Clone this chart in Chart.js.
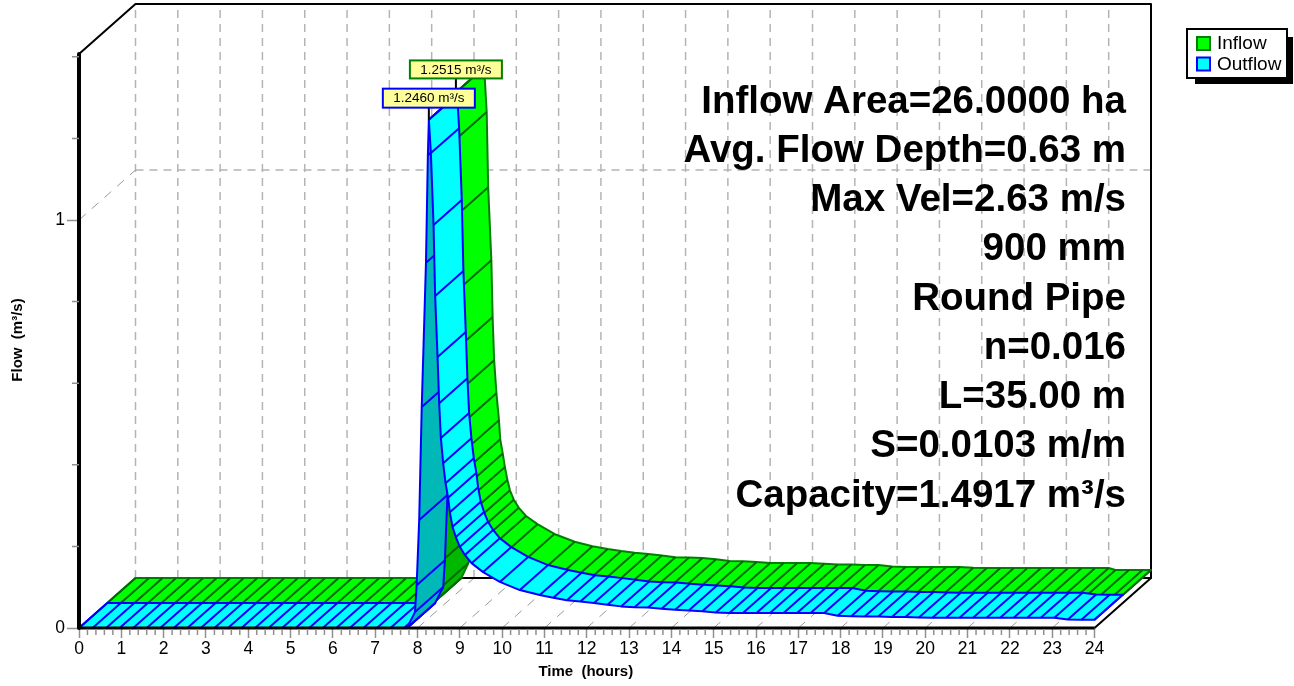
<!DOCTYPE html>
<html><head><meta charset="utf-8">
<style>html,body{margin:0;padding:0;background:#fff}canvas{display:block}</style>
<script src="https://cdn.jsdelivr.net/npm/chart.js@4"></script>
</head><body><canvas id="c" width="1294" height="686"></canvas>
<script>
// ---- values ----
const hourTicks = [0,1,2,3,4,5,6,7,8,9,10,11,12,13,14,15,16,17,18,19,20,21,22,23,24];
const flowMinorTicks = [0.2,0.4,0.6,0.8,1.2,1.4];
const flowMajorTicks = [0,1];
const seriesNames = ['Inflow','Outflow'];
const notes = ['Inflow Area=26.0000 ha','Avg. Flow Depth=0.63 m','Max Vel=2.63 m/s','900 mm','Round Pipe','n=0.016','L=35.00 m','S=0.0103 m/m','Capacity=1.4917 m³/s'];
const peakLabels = ['1.2515 m³/s','1.2460 m³/s'];

const outflowTimes = [0,.32,.64,.96,1.28,1.6,1.92,2.24,2.56,2.88,3.2,3.52,3.84,4.16,4.48,4.8,5.12,5.44,5.76,6.08,6.4,6.72,7.04,7.36,7.68,7.75,
  7.94,7.98,8.04,8.10,8.20,8.245,8.268,
  8.316,8.379,8.417,8.474,8.512,8.552,8.606,8.663,8.724,8.764,8.828,8.906,9.0,9.119,9.277,9.551,9.946,10.418,10.89,
  11.21,11.53,11.85,12.17,12.49,12.81,13.13,13.45,13.77,14.09,14.41,14.73,15.05,15.37,15.69,16.01,16.33,16.65,16.97,17.29,17.61,17.93,18.25,18.57,18.89,19.21,19.53,19.85,20.17,20.49,20.81,21.13,21.45,21.77,22.09,22.41,22.73,23.05,23.37,23.69,24];
const outflowFlows = [0,0,0,0,0,0,0,0,0,0,0,0,0,0,0,0,0,0,0,0,0,0,0,0,0,0,
  .039,.105,.265,.542,.895,1.159,1.246,
  1.164,.988,.814,.664,.551,.466,.404,.355,.319,.284,.248,.223,.199,.179,.159,.137,.113,.093,.081,
  .074,.068,.065,.061,.057,.053,.051,.050,.047,.045,.043,.041,.038,.037,.037,.037,.037,.037,.037,.037,.037,.030,.029,.028,.028,.027,.027,.026,.025,.025,.025,.025,.025,.025,.025,.025,.025,.025,.021,.020,.020];
const inflowTimes = [0,.32,.64,.96,1.28,1.6,1.92,2.24,2.56,2.88,3.2,3.52,3.84,4.16,4.48,4.8,5.12,5.44,5.76,6.08,6.4,6.72,7.04,7.36,7.68,7.70,
  7.87,7.93,7.99,8.05,8.15,8.21,8.24,
  8.30,8.335,8.41,8.44,8.476,8.53,8.59,8.62,8.68,8.73,8.79,8.85,8.94,9.06,9.23,9.50,9.90,10.38,10.80,
  11.16,11.48,11.80,12.12,12.44,12.76,13.08,13.40,13.72,14.04,14.36,14.68,15.0,15.32,15.64,15.96,16.28,16.60,16.92,17.24,17.56,17.88,18.20,18.52,18.84,19.16,19.48,19.80,20.12,20.44,20.76,21.08,21.40,21.72,22.04,22.36,22.68,23.0,23.16,23.48,23.80,24];
const inflowFlows = [0,0,0,0,0,0,0,0,0,0,0,0,0,0,0,0,0,0,0,0,0,0,0,0,0,0,
  .037,.105,.265,.545,.900,1.165,1.2515,
  1.142,.958,.779,.640,.534,.453,.387,.340,.305,.272,.240,.215,.192,.172,.152,.132,.108,.089,.078,
  .071,.066,.062,.059,.055,.051,.050,.049,.046,.042,.041,.039,.037,.037,.037,.037,.035,.033,.033,.032,.032,.028,.027,.027,.027,.027,.027,.025,.0245,.0245,.0245,.0245,.0245,.0245,.0245,.0245,.0245,.0245,.0196,.0196,.0196,.0196];

// depth of the pseudo-3D box, in axis units
const depthX = 1.335, depthY = 0.1225, wallTop = 1.407;
const riseStartIndex = 25, peakIndex = 32;

// ---- building line data from the values ----
const sets = [];
function add(points, color, width, extra){ sets.push(Object.assign({data:points,showLine:true,pointRadius:0,borderColor:color,borderWidth:width,clip:false,borderJoinStyle:'round',spanGaps:false},extra||{})); }
const at = (t,q,z) => ({x:t+z*depthX, y:q+z*depthY});
const gap = {x:0,y:null};
function ribbon(times,flows,z0,z1,edge,hatch,light,dark){
  const part=(from,to,fill)=>{
    const pts=[];
    for(let i=from;i<=to;i++) pts.push(at(times[i],flows[i],z0));
    for(let i=to;i>=from;i--) pts.push(at(times[i],flows[i],z1));
    pts.push(pts[0]);
    add(pts,edge,2,{polyFill:fill});
    const h=[];
    for(let i=from;i<=to;i++){ h.push(at(times[i],flows[i],z0),at(times[i],flows[i],z1),gap); }
    add(h,hatch,2);
  };
  part(0,riseStartIndex,light);
  part(riseStartIndex,peakIndex,dark);
  part(peakIndex,times.length-1,light);
}
const last = hourTicks[hourTicks.length-1];
// back wall + floor grid
const wallV=[],floorD=[];
hourTicks.forEach(h=>{wallV.push(at(h,0,1),at(h,wallTop,1),gap);floorD.push(at(h,0,0),at(h,0,1),gap);});
add(wallV,'#b4b4b4',1.5,{borderDash:[8,6]});
add(floorD,'#9a9a9a',1,{borderDash:[9,8]});
add([at(0,1,1),at(last,1,1)],'#b4b4b4',1.5,{borderDash:[8,6]});
add([at(0,1,0),at(0,1,1)],'#9a9a9a',1,{borderDash:[9,8]});
// back frame
add([at(0,wallTop,0),at(0,wallTop,1),at(last,wallTop,1),at(last,0,1)],'#000',2);
add([at(0,0,1),at(last,0,1),at(last,0,0)],'#000',2);
// ribbons
ribbon(inflowTimes,inflowFlows,.5,1,'#008000','#006a00','#00ff00','#00b800');
ribbon(outflowTimes,outflowFlows,0,.5,'#0000ff','#0000ff','#00ffff','#00b8b8');
// front frame
add([at(0,wallTop,0),at(0,0,0)],'#000',4);
add([at(0,0,0),at(last,0,0)],'#000',3);
sets.forEach((s,i)=>{s.order=sets.length-i;});

const polyPlugin={id:'poly',
  beforeDatasetDraw(chart,args){
    const ds=chart.data.datasets[args.index];
    if(!ds.polyFill) return;
    const c=chart.ctx,p=args.meta.data;
    c.save();c.beginPath();
    p.forEach((e,i)=>i?c.lineTo(e.x,e.y):c.moveTo(e.x,e.y));
    c.closePath();c.fillStyle=ds.polyFill;c.fill();c.restore();
  },
  afterDraw(chart){
    const c=chart.ctx,X=chart.scales.x,Y=chart.scales.y,x0=X.getPixelForValue(0),y0=Y.getPixelForValue(0);
    c.save();
    // minor ticks
    c.strokeStyle='#909090';c.lineWidth=1.5;c.beginPath();
    flowMinorTicks.forEach(v=>{const y=Y.getPixelForValue(v);c.moveTo(x0-7,y);c.lineTo(x0,y);});
    for(let i=0;i<last;i++)for(let k=1;k<5;k++){const x=X.getPixelForValue(i+k/5);c.moveTo(x,y0+1);c.lineTo(x,y0+7);}
    c.stroke();
    // axis titles
    c.fillStyle='#000';c.font='bold 15px "Liberation Sans"';c.textAlign='center';c.textBaseline='middle';
    c.fillText('Time  (hours)',X.getPixelForValue(last/2)-1,672);
    c.save();c.translate(18,Y.getPixelForValue(wallTop/2)-1);c.rotate(-Math.PI/2);c.fillText('Flow  (m³/s)',0,0);c.restore();
    // peak labels
    const peak=(t,q,z,text,edge,h,gapPx)=>{
      const p=at(t,q,z),px=X.getPixelForValue(p.x),py=Y.getPixelForValue(p.y);
      const bot=py-gapPx,w=92;
      c.strokeStyle='#000';c.lineWidth=2;c.beginPath();c.moveTo(px,py);c.lineTo(px,bot);c.stroke();
      c.fillStyle='#ffff99';c.fillRect(px-w/2,bot-h,w,h);
      c.strokeStyle=edge;c.lineWidth=2;c.strokeRect(px-w/2,bot-h,w,h);
      c.fillStyle='#000';c.font='13.5px "Liberation Sans"';c.textAlign='center';c.textBaseline='middle';
      c.fillText(text,px,bot-h/2+.5);
    };
    peak(inflowTimes[peakIndex],inflowFlows[peakIndex],.5,peakLabels[0],'#008000',18,14);
    peak(outflowTimes[peakIndex],outflowFlows[peakIndex],0,peakLabels[1],'#0000ff',19,12);
    // notes
    c.fillStyle='#000';c.font='bold 38.5px "Liberation Sans"';c.textAlign='right';c.textBaseline='middle';
    notes.forEach((n,i)=>c.fillText(n,1126,102+i*49.25));
    // legend
    c.fillStyle='#000';c.fillRect(1195,37,98,47);
    c.fillStyle='#fff';c.fillRect(1187,29,100,49);
    c.strokeStyle='#000';c.lineWidth=2;c.strokeRect(1187,29,100,49);
    const swatch=[['#00ff00','#008000'],['#00ffff','#0000ff']];
    seriesNames.forEach((n,i)=>{
      const y=37+i*20.5;
      c.fillStyle=swatch[i][0];c.fillRect(1197,y,13,13);
      c.strokeStyle=swatch[i][1];c.lineWidth=2;c.strokeRect(1197,y,13,13);
      c.fillStyle='#000';c.font='19px "Liberation Sans"';c.textAlign='left';c.textBaseline='middle';
      c.fillText(n,1217,y+7);
    });
    c.restore();
  }
};

new Chart(document.getElementById('c'),{
  type:'scatter',
  data:{datasets:sets},
  plugins:[polyPlugin],
  options:{
    responsive:false,animation:false,
    layout:{padding:{left:0,right:143,top:4,bottom:0}},
    plugins:{legend:{display:false},tooltip:{enabled:false},title:{display:false}},
    scales:{
      x:{type:'linear',min:0,max:last+depthX,
        afterBuildTicks(s){s.ticks=hourTicks.map(v=>({value:v}));},
        afterFit(s){s.height=58;s.paddingLeft=0;s.paddingRight=0;},
        grid:{drawOnChartArea:false,drawTicks:true,tickLength:10,tickColor:'#909090',tickWidth:1.5},
        border:{display:false},
        ticks:{autoSkip:false,maxRotation:0,padding:1,color:'#000',font:{family:'"Liberation Sans"',size:17.5},callback:v=>String(v)}},
      y:{type:'linear',min:0,max:wallTop+depthY,
        afterBuildTicks(s){s.ticks=flowMajorTicks.map(v=>({value:v}));},
        afterFit(s){s.width=79;s.paddingTop=0;s.paddingBottom=0;},
        grid:{drawOnChartArea:false,drawTicks:true,tickLength:12,tickColor:'#909090',tickWidth:1.5},
        border:{display:false},
        ticks:{padding:2,color:'#000',font:{family:'"Liberation Sans"',size:17.5},callback:v=>String(v)}}
    }
  }
});
</script></body></html>
